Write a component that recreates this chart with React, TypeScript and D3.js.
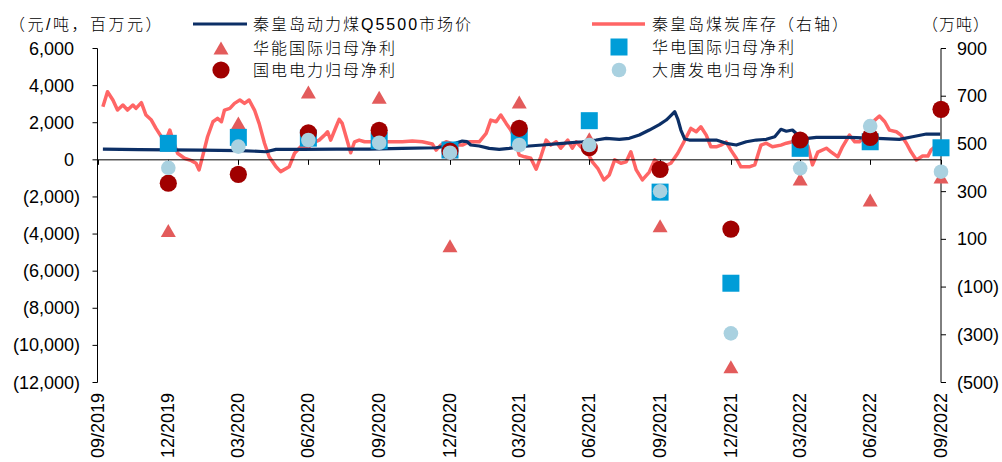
import React from "react";
import * as d3 from "d3";

// Quarter-end reporting dates for the four generators' net profit attributable to parent
const quarterDates = [
  "2019-12-31", "2020-03-31", "2020-06-30", "2020-09-30", "2020-12-31", "2021-03-31",
  "2021-06-30", "2021-09-30", "2021-12-31", "2022-03-31", "2022-06-30", "2022-09-30",
];
// 单位：百万元
const huanengProfit = [-3810, 1980, 3650, 3370, -4630, 3115, 1140, -3550, -11150, -1030, -2170, -930];
const huadianProfit = [890, 1210, 1170, 1030, 530, 1200, 2110, -1740, -6650, 620, 975, 650];
const guodianProfit = [-1260, -780, 1460, 1590, 475, 1700, 650, -510, -3730, 1070, 1210, 2720];
const datangProfit = [-430, 710, 1070, 920, 385, 800, 800, -1690, -9350, -460, 1820, -640];

// 秦皇岛动力煤Q5500市场价（元/吨）
const priceDates = [
  "2019-10-07", "2019-11-23", "2020-02-09", "2020-04-02", "2020-05-06", "2020-05-19", "2020-06-22",
  "2020-08-05", "2020-09-17", "2020-10-30", "2020-12-13", "2020-12-26", "2021-01-08", "2021-01-16",
  "2021-01-22", "2021-01-27", "2021-02-07", "2021-02-20", "2021-03-05", "2021-03-18", "2021-03-31",
  "2021-04-13", "2021-04-30", "2021-05-26", "2021-06-21", "2021-07-09", "2021-07-22", "2021-08-08",
  "2021-08-21", "2021-09-03", "2021-09-16", "2021-09-29", "2021-10-08", "2021-10-12", "2021-10-19",
  "2021-10-23", "2021-10-27", "2021-11-01", "2021-11-07", "2021-12-12", "2021-12-25", "2022-01-07",
  "2022-01-20", "2022-02-02", "2022-02-15", "2022-02-26", "2022-03-06", "2022-03-13", "2022-03-21",
  "2022-03-28", "2022-04-10", "2022-04-21", "2022-06-03", "2022-07-17", "2022-08-07", "2022-08-24",
  "2022-09-11", "2022-09-29",
];
const priceValues = [
  582, 555, 528, 501, 437, 566, 566,
  582, 582, 620, 652, 744, 905, 1013,
  986, 798, 744, 620, 566, 620, 706,
  744, 798, 889, 975, 1067, 1159, 1105,
  1159, 1336, 1606, 1902, 2145, 2306, 2592,
  2199, 1606, 1121, 1067, 1067, 889, 798,
  975, 1067, 1105, 1245, 1644, 1541, 1606,
  1336, 1159, 1213, 1213, 1148, 1105, 1245,
  1390, 1390,
];

// 秦皇岛煤炭库存（万吨，右轴）
const stockDates = [
  "2019-10-07", "2019-10-13", "2019-10-20", "2019-10-26", "2019-11-02", "2019-11-08", "2019-11-15",
  "2019-11-19", "2019-11-26", "2019-12-02", "2019-12-09", "2019-12-15", "2019-12-22", "2019-12-28",
  "2020-01-02", "2020-01-06", "2020-01-12", "2020-01-21", "2020-01-30", "2020-02-05", "2020-02-09",
  "2020-02-14", "2020-02-20", "2020-02-27", "2020-03-04", "2020-03-09", "2020-03-13", "2020-03-20",
  "2020-03-26", "2020-04-02", "2020-04-08", "2020-04-14", "2020-04-21", "2020-04-27", "2020-05-04",
  "2020-05-10", "2020-05-19", "2020-05-25", "2020-06-05", "2020-06-12", "2020-06-20", "2020-06-29",
  "2020-07-05", "2020-07-14", "2020-07-21", "2020-07-25", "2020-07-29", "2020-08-05", "2020-08-09",
  "2020-08-13", "2020-08-18", "2020-08-24", "2020-08-29", "2020-09-04", "2020-09-11", "2020-09-17",
  "2020-09-26", "2020-10-02", "2020-10-09", "2020-10-17", "2020-10-30", "2020-11-12", "2020-11-25",
  "2020-12-08", "2020-12-13", "2020-12-19", "2020-12-26", "2021-01-08", "2021-01-16", "2021-01-25",
  "2021-02-07", "2021-02-16", "2021-02-22", "2021-03-01", "2021-03-07", "2021-03-14", "2021-03-20",
  "2021-03-25", "2021-03-31", "2021-04-07", "2021-04-15", "2021-04-22", "2021-04-28", "2021-05-05",
  "2021-05-11", "2021-05-18", "2021-05-24", "2021-06-02", "2021-06-08", "2021-06-13", "2021-06-19",
  "2021-06-28", "2021-07-04", "2021-07-11", "2021-07-19", "2021-07-26", "2021-08-02", "2021-08-10",
  "2021-08-17", "2021-08-23", "2021-08-30", "2021-09-07", "2021-09-16", "2021-09-23", "2021-10-03",
  "2021-10-14", "2021-10-23", "2021-10-30", "2021-11-09", "2021-11-16", "2021-11-22", "2021-11-29",
  "2021-12-05", "2021-12-12", "2021-12-18", "2021-12-25", "2021-12-31", "2022-01-07", "2022-01-13",
  "2022-01-24", "2022-01-31", "2022-02-08", "2022-02-15", "2022-02-23", "2022-03-06", "2022-03-13",
  "2022-03-21", "2022-03-30", "2022-04-10", "2022-04-16", "2022-04-23", "2022-05-04", "2022-05-10",
  "2022-05-19", "2022-05-25", "2022-06-03", "2022-06-10", "2022-06-16", "2022-06-27", "2022-07-06",
  "2022-07-12", "2022-07-19", "2022-07-25", "2022-08-03", "2022-08-09", "2022-08-16", "2022-08-22",
  "2022-08-29", "2022-09-06", "2022-09-13", "2022-09-17", "2022-09-22", "2022-09-29",
];
const stockValues = [
  656, 719, 684, 642, 663, 642, 663,
  649, 673, 621, 600, 565, 530, 516,
  558, 516, 461, 440, 430, 419, 391,
  453, 530, 593, 607, 593, 642, 649,
  670, 684, 670, 684, 642, 586, 503,
  446, 404, 384, 404, 461, 488, 482,
  503, 516, 537, 551, 516, 572, 603,
  586, 530, 463, 509, 516, 509, 509,
  509, 495, 509, 509, 509, 512, 509,
  500, 474, 495, 509, 495, 495, 509,
  509, 544, 600, 593, 621, 586, 558,
  523, 453, 446, 440, 394, 446, 516,
  495, 509, 482, 516, 482, 509, 488,
  461, 425, 398, 349, 370, 433, 419,
  425, 467, 391, 349, 382, 433, 404,
  419, 461, 503, 565, 551, 572, 537,
  488, 488, 495, 508, 474, 440, 404,
  404, 412, 495, 503, 488, 495, 503,
  509, 516, 491, 412, 466, 482, 467,
  446, 488, 537, 509, 509, 544, 600,
  617, 593, 558, 551, 537, 503, 467,
  433, 449, 449, 474, 488, 495,
];

const xTickDates = ["2019-09-30", ...quarterDates];
const leftTicks = [6000, 4000, 2000, 0, -2000, -4000, -6000, -8000, -10000, -12000];
const rightTicks = [900, 700, 500, 300, 100, -100, -300, -500];

const COLORS = {
  price: "#0C2F66",
  stock: "#FF6565",
  huaneng: "#E35B5B",
  guodian: "#A00000",
  huadian: "#009DD8",
  datang: "#A9D1E0",
};

const NUM_FONT = "'Liberation Sans', Arial, sans-serif";
const CJK_FONT = "'Liberation Sans', 'Noto Sans CJK SC', sans-serif";

const parse = d3.timeParse("%Y-%m-%d");
const fmtTick = d3.timeFormat("%m/%Y");
const fmtNum = d3.format(",");

const W = 1002;
const H = 462;
const plotLeft = 97.5;
const plotRight = 941;
const plotTop = 48.5;
const plotBottom = 382.5;

const triPath = (w: number, h: number) => `M0,${-h / 2}L${w / 2},${h / 2}L${-w / 2},${h / 2}Z`;

function Marker({ kind, x, y }: { kind: string; x: number; y: number }) {
  if (kind === "huaneng")
    return <path d={triPath(15, 13)} transform={`translate(${x},${y})`} fill={COLORS.huaneng} />;
  if (kind === "huadian")
    return <rect x={x - 8.5} y={y - 8.5} width={17} height={17} fill={COLORS.huadian} />;
  if (kind === "guodian") return <circle cx={x} cy={y} r={8.6} fill={COLORS.guodian} />;
  return <circle cx={x} cy={y} r={7.3} fill={COLORS.datang} />;
}

function LegendText({ x, y, children }: { x: number; y: number; children: React.ReactNode }) {
  return (
    <text
      x={x}
      y={y}
      dominantBaseline="central"
      fontFamily={CJK_FONT}
      fontSize={16}
      fontWeight={300}
      letterSpacing={2}
      fill="#000"
    >
      {children}
    </text>
  );
}

export default function App() {
  const x = d3
    .scaleTime()
    .domain([parse("2019-09-30")!, parse("2022-09-30")!])
    .range([plotLeft, plotRight]);
  const yL = d3.scaleLinear().domain([-12000, 6000]).range([plotBottom, plotTop]);
  const yR = d3.scaleLinear().domain([-500, 900]).range([plotBottom, plotTop]);

  const priceData = priceDates.map((d, i) => ({ date: parse(d)!, v: priceValues[i] }));
  const stockData = stockDates.map((d, i) => ({ date: parse(d)!, v: stockValues[i] }));

  const priceLine = d3
    .line<{ date: Date; v: number }>()
    .x((d) => x(d.date))
    .y((d) => yL(d.v));
  const stockLine = d3
    .line<{ date: Date; v: number }>()
    .x((d) => x(d.date))
    .y((d) => yR(d.v));

  const series = [
    { kind: "huaneng", values: huanengProfit },
    { kind: "huadian", values: huadianProfit },
    { kind: "guodian", values: guodianProfit },
    { kind: "datang", values: datangProfit },
  ];

  const y0 = yL(0);
  const labelFmt = (v: number) => (v < 0 ? `(${fmtNum(-v)})` : fmtNum(v));

  return (
    <svg
      width={W}
      height={H}
      style={{ position: "absolute", left: 0, top: 0, display: "block", background: "#fff" }}
    >
      {/* lines */}
      <path d={stockLine(stockData)!} fill="none" stroke={COLORS.stock} strokeWidth={3.5} strokeLinejoin="round" />
      <path d={priceLine(priceData)!} fill="none" stroke={COLORS.price} strokeWidth={3.2} strokeLinejoin="round" />

      {/* x axis at zero */}
      <line x1={plotLeft} x2={plotRight} y1={y0} y2={y0} stroke="#000" strokeWidth={1} />
      {xTickDates.map((d) => {
        const tx = Math.round(x(parse(d)!)) + 0.5;
        return <line key={d} x1={tx} x2={tx} y1={y0} y2={y0 + 5} stroke="#000" strokeWidth={1} />;
      })}

      {/* left axis */}
      <line x1={plotLeft} x2={plotLeft} y1={plotTop} y2={plotBottom} stroke="#000" strokeWidth={1} />
      {leftTicks.map((v) => (
        <g key={v}>
          <line x1={plotLeft - 5} x2={plotLeft} y1={yL(v)} y2={yL(v)} stroke="#000" strokeWidth={1} />
          <text
            x={v < 0 ? 80 : 74}
            y={yL(v)}
            textAnchor="end"
            dominantBaseline="central"
            fontFamily={NUM_FONT}
            fontSize={18}
            fill="#000"
          >
            {labelFmt(v)}
          </text>
        </g>
      ))}

      {/* right axis */}
      <line x1={plotRight} x2={plotRight} y1={plotTop} y2={plotBottom} stroke="#000" strokeWidth={1} />
      {rightTicks.map((v) => (
        <g key={v}>
          <line x1={plotRight} x2={plotRight + 5} y1={yR(v)} y2={yR(v)} stroke="#000" strokeWidth={1} />
          <text
            x={957}
            y={yR(v)}
            textAnchor="start"
            dominantBaseline="central"
            fontFamily={NUM_FONT}
            fontSize={18}
            fill="#000"
          >
            {labelFmt(v)}
          </text>
        </g>
      ))}

      {/* quarter labels */}
      {xTickDates.map((d) => {
        const tx = x(parse(d)!);
        return (
          <text
            key={d}
            transform={`translate(${tx},393) rotate(-90)`}
            textAnchor="end"
            dominantBaseline="central"
            fontFamily={NUM_FONT}
            fontSize={18}
            fill="#000"
          >
            {fmtTick(parse(d)!)}
          </text>
        );
      })}

      {/* quarterly profit markers */}
      {series.map((s) =>
        s.values.map((v, i) => (
          <Marker key={`${s.kind}-${i}`} kind={s.kind} x={x(parse(quarterDates[i])!)} y={yL(v)} />
        ))
      )}

      {/* unit captions */}
      <text
        x={164}
        y={24}
        textAnchor="end"
        dominantBaseline="central"
        fontFamily={CJK_FONT}
        fontSize={16}
        fontWeight={300}
        letterSpacing={2.5}
        fill="#000"
      >
        （元/吨，百万元）
      </text>
      <text
        x={990}
        y={24}
        textAnchor="end"
        dominantBaseline="central"
        fontFamily={CJK_FONT}
        fontSize={16}
        fontWeight={300}
        letterSpacing={1}
        fill="#000"
      >
        （万吨）
      </text>

      {/* legend */}
      <line x1={193} x2={247} y1={24} y2={24} stroke={COLORS.price} strokeWidth={3.2} />
      <LegendText x={253} y={24}>秦皇岛动力煤Q5500市场价</LegendText>
      <Marker kind="huaneng" x={221} y={48} />
      <LegendText x={253} y={48}>华能国际归母净利</LegendText>
      <Marker kind="guodian" x={221} y={70} />
      <LegendText x={253} y={70}>国电电力归母净利</LegendText>

      <line x1={592} x2={645} y1={24} y2={24} stroke={COLORS.stock} strokeWidth={3.5} />
      <LegendText x={652} y={24}>秦皇岛煤炭库存（右轴）</LegendText>
      <Marker kind="huadian" x={619} y={47} />
      <LegendText x={652} y={47}>华电国际归母净利</LegendText>
      <Marker kind="datang" x={619} y={70} />
      <LegendText x={652} y={70}>大唐发电归母净利</LegendText>
    </svg>
  );
}
